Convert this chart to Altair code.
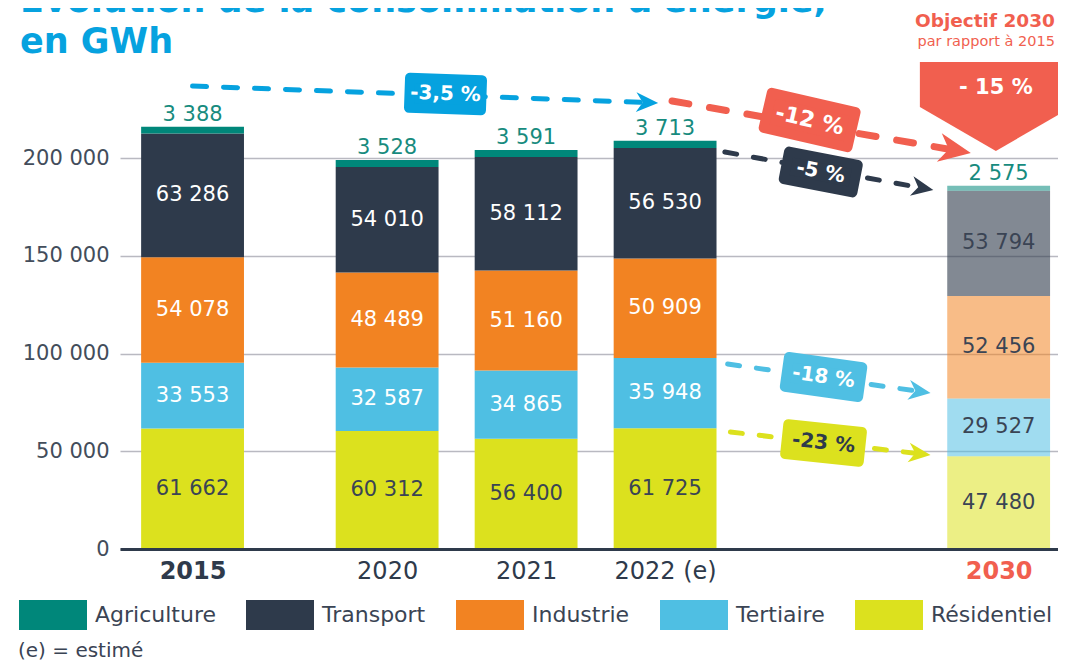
import math
import altair as alt
import pandas as pd

# ---------------- data ----------------
years = ["2015", "2020", "2021", "2022 (e)", "2030"]
x_slots = [0.0, 1.4, 2.4, 3.4, 5.8]
residentiel = [61662, 60312, 56400, 61725, 47480]
tertiaire = [33553, 32587, 34865, 35948, 29527]
industrie = [54078, 48489, 51160, 50909, 52456]
transport = [63286, 54010, 58112, 56530, 53794]
agriculture = [3388, 3528, 3591, 3713, 2575]
stack_order = ["Résidentiel", "Tertiaire", "Industrie", "Transport", "Agriculture"]
legend_order = ["Agriculture", "Transport", "Industrie", "Tertiaire", "Résidentiel"]
y_ticks = [0, 50000, 100000, 150000, 200000]

# arrow annotations (data coordinates: slot, GWh)
arrow_labels = ["-3,5 %", "-12 %", "-5 %", "-18 %", "-23 %"]
arrow_from_x = [0.0, 3.45, 3.83, 3.85, 3.87]
arrow_from_y = [236800, 229150, 203070, 94630, 59850]
arrow_to_x = [3.35, 5.60, 5.33, 5.31, 5.31]
arrow_to_y = [228130, 202550, 183630, 79790, 48080]
label_x = [1.82, 4.44, 4.52, 4.54, 4.54]
label_y = [232730, 219430, 192840, 87980, 54220]

objective_x = 5.78
objective_y = 226080
objective_text = "- 15 %"
objective_title = ["Objectif 2030", "par rapport à 2015"]

title_text = "Évolution de la consommation d'énergie,\nen GWh"
footnote = "(e) = estimé"

# ---------------- style ----------------
FONT = "DejaVu Sans"
DARK = "#2e3a4b"
TXT = "#3a4454"
RED = "#f15f4f"
BLUE = "#06a2df"
sector_colors = ["#00877a", "#2e3a4b", "#f28322", "#4fbfe3", "#dce11e"]

PLOT_W, PLOT_H = 938, 391
X_MIN, X_MAX = -0.522, 6.227
XS = alt.Scale(domain=[X_MIN, X_MAX], nice=False, zero=False)
YS = alt.Scale(domain=[0, 200000], nice=False, zero=False)
PX_X = PLOT_W / (X_MAX - X_MIN)
PX_Y = PLOT_H / 200000

arrow_styles = [
    dict(color=BLUE, width=5, dash=[14, 17], head=22, box=(82, 40), text="white", box_angle=2, fs=20),
    dict(color=RED, width=7, dash=[17, 21], head=32, box=(96, 46), text="white", box_angle=13, fs=22),
    dict(color=DARK, width=5, dash=[12, 17], head=22, box=(80, 38), text="white", box_angle=11, fs=20),
    dict(color="#4fbfe3", width=5, dash=[12, 17], head=22, box=(84, 40), text="white", box_angle=8, fs=20),
    dict(color="#dce11e", width=5, dash=[12, 17], head=22, box=(84, 40), text=DARK, box_angle=6, fs=20),
]
HEAD = "M0,0L-2,-0.9L-1.4,0L-2,0.9Z"

label_expr = " : ".join(
    f"datum.value == {s:g} ? '{y}'" for s, y in zip(x_slots, years)
) + " : ''"

xaxis = alt.Axis(
    values=x_slots, labelExpr=label_expr, title=None, grid=False, ticks=False,
    domain=True, domainColor=DARK, domainWidth=3, zindex=1,
    labelFont=FONT, labelFontSize=24, labelPadding=10, labelFlush=False, labelOverlap=False,
    labelColor={"condition": {"test": f"datum.value == {x_slots[-1]:g}", "value": RED}, "value": DARK},
    labelFontWeight={"condition": {"test": f"datum.value == {x_slots[0]:g} || datum.value == {x_slots[-1]:g}", "value": "bold"}, "value": "normal"},
)
yaxis = alt.Axis(
    values=y_ticks, format=",d", title=None, grid=True, gridColor="#b9b9c1", gridWidth=1.5,
    ticks=False, domain=False, labelFont=FONT, labelFontSize=21, labelColor="#434d5b", labelPadding=11,
)


def X(f):
    return alt.X(f, type="quantitative", scale=XS, axis=xaxis)


def Y(f):
    return alt.Y(f, type="quantitative", scale=YS, axis=yaxis)


# ---------------- bars ----------------
rows = []
series = [residentiel, tertiaire, industrie, transport, agriculture]
for i, (yr, sl) in enumerate(zip(years, x_slots)):
    for k, (sec, vals) in enumerate(zip(stack_order, series)):
        rows.append({"year": yr, "slot": sl, "sector": sec, "order": k, "value": vals[i]})
df = pd.DataFrame(rows)

base = alt.Chart(df).transform_window(
    cum="sum(value)", groupby=["year"], sort=[alt.SortField("order")], frame=[None, 0]
).transform_calculate(
    y0="datum.cum - datum.value",
    mid="datum.cum - datum.value / 2",
    xl="datum.slot - 0.37",
    xr="datum.slot + 0.37",
)

legend = alt.Legend(
    title=None, orient="none", legendX=-101, legendY=423, direction="horizontal", columns=5,
    symbolType="M-1,-0.44H1V0.44H-1Z", symbolSize=68 * 68, symbolStrokeWidth=0, symbolOpacity=1,
    labelFont=FONT, labelFontSize=22, labelColor=TXT, labelOffset=8, columnPadding=30,
    labelLimit=300,
)

bars = base.mark_bar().encode(
    x=X("xl"),
    x2="xr:Q",
    y=Y("y0"),
    y2="cum:Q",
    color=alt.Color("sector:N", scale=alt.Scale(domain=legend_order, range=sector_colors), legend=legend),
    opacity={
        "condition": [
            {"test": "datum.year == '2030' && datum.sector == 'Transport'", "value": 0.6},
            {"test": "datum.year == '2030'", "value": 0.54},
        ],
        "value": 1.0,
    },
)

seg_labels = base.transform_filter("datum.sector != 'Agriculture'").mark_text(
    font=FONT, fontSize=21, baseline="middle", align="center"
).encode(
    x=X("slot"), y=Y("mid"),
    text=alt.Text("value:Q", format=",d"),
    color=alt.condition("datum.sector == 'Résidentiel' || datum.year == '2030'", alt.value(TXT), alt.value("white")),
)

agri_labels = base.transform_filter("datum.sector == 'Agriculture'").mark_text(
    font=FONT, fontSize=21, baseline="alphabetic", align="center", dy=-6, color="#178b7e"
).encode(x=X("slot"), y=Y("cum"), text=alt.Text("value:Q", format=",d"))

layers = [bars, seg_labels, agri_labels]

# ---------------- objective shape ----------------
obj_df = pd.DataFrame({"x": [objective_x], "y": [objective_y], "t": [objective_text]})
layers.append(
    alt.Chart(obj_df).mark_point(
        shape="M-1,-0.592L1,-0.592L1,0L0,0.579L-1,0Z", size=152 * 152, filled=True,
        fill=RED, opacity=1, strokeWidth=0,
    ).encode(x=X("x"), y=Y("y"))
)
layers.append(
    alt.Chart(pd.DataFrame({"x": [objective_x], "y": [235800], "t": [objective_text]})).mark_text(
        font=FONT, fontSize=21, fontWeight="bold", color="white", baseline="middle", align="center"
    ).encode(x=X("x"), y=Y("y"), text="t:N")
)
layers.append(
    alt.Chart(pd.DataFrame({"x": [6.205], "y": [267000], "t": [objective_title[0]]})).mark_text(
        font=FONT, fontSize=18.5, fontWeight="bold", color=RED, baseline="alphabetic", align="right"
    ).encode(x=X("x"), y=Y("y"), text="t:N")
)
layers.append(
    alt.Chart(pd.DataFrame({"x": [6.205], "y": [257300], "t": [objective_title[1]]})).mark_text(
        font=FONT, fontSize=14.5, color=RED, baseline="alphabetic", align="right"
    ).encode(x=X("x"), y=Y("y"), text="t:N")
)

# ---------------- arrows ----------------
for i, lab in enumerate(arrow_labels):
    st = arrow_styles[i]
    fx, fy, tx, ty = arrow_from_x[i], arrow_from_y[i], arrow_to_x[i], arrow_to_y[i]
    dxp = (tx - fx) * PX_X
    dyp = -(ty - fy) * PX_Y
    L = math.hypot(dxp, dyp)
    ang = math.degrees(math.atan2(dyp, dxp)) % 360
    r = st["head"] / 2
    short = 1.3 * r / L
    ex = tx - (tx - fx) * short
    ey = ty - (ty - fy) * short
    c = st["color"]
    layers.append(
        alt.Chart(pd.DataFrame({"x": [fx, ex], "y": [fy, ey]})).mark_line(
            color=c, strokeWidth=st["width"], strokeDash=st["dash"], strokeCap="round"
        ).encode(x=X("x"), y=Y("y"))
    )
    layers.append(
        alt.Chart(pd.DataFrame({"x": [tx], "y": [ty]})).mark_point(
            shape=HEAD, size=st["head"] ** 2, filled=True, fill=c, opacity=1, strokeWidth=0, angle=ang
        ).encode(x=X("x"), y=Y("y"))
    )
    bw, bh = st["box"]
    ratio = (bh - 10) / (bw - 10)
    box_path = f"M-1,-{ratio:.3f}H1V{ratio:.3f}H-1Z"
    bdf = pd.DataFrame({"x": [label_x[i]], "y": [label_y[i]], "t": [lab]})
    layers.append(
        alt.Chart(bdf).mark_point(
            shape=box_path, size=(bw - 10) ** 2, filled=True, fill=c, stroke=c, strokeWidth=10,
            strokeJoin="round", opacity=1, angle=st["box_angle"],
        ).encode(x=X("x"), y=Y("y"))
    )
    layers.append(
        alt.Chart(bdf).mark_text(
            font=FONT, fontSize=st["fs"], fontWeight="bold", color=st["text"], baseline="middle",
            align="center", angle=st["box_angle"],
        ).encode(x=X("x"), y=Y("y"), text="t:N")
    )

# title (two lines, first partly above the page edge as in the reference)
layers.append(
    alt.Chart(pd.DataFrame({"t": [title_text]})).mark_text(
        font=FONT, fontSize=35, fontWeight="bold", color=BLUE, align="left", baseline="alphabetic",
        lineBreak="\n", lineHeight=41,
    ).encode(x=alt.value(-100), y=alt.value(-146), text="t:N")
)

# footnote
layers.append(
    alt.Chart(pd.DataFrame({"t": [footnote]})).mark_text(
        font=FONT, fontSize=20, color=TXT, align="left", baseline="alphabetic"
    ).encode(x=alt.value(-102), y=alt.value(499), text="t:N")
)

chart = alt.layer(*layers).properties(
    width=PLOT_W,
    height=PLOT_H,
    autosize=alt.AutoSizeParams(type="none"),
    padding={"left": 112, "top": 150, "right": 0, "bottom": 114},
).configure(
    locale={"number": {"decimal": ",", "thousands": " ", "grouping": [3], "currency": ["", " €"]}}
).configure_view(stroke=None)

chart.save("out.html", embed_options={"renderer": "svg", "actions": False})
